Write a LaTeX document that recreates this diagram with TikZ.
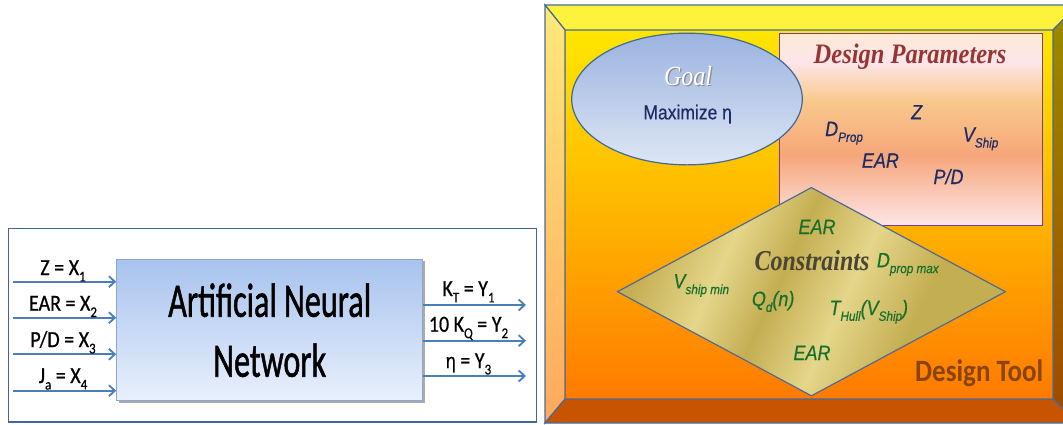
\documentclass[tikz,border=0pt]{standalone}
\usepackage{fontspec}
\setmainfont{Liberation Serif}
\newfontfamily\calfont{Carlito}[FakeBold=0.6]
\newfontfamily\calbig{Carlito}[FakeBold=1.4]
\newfontfamily\calplain{Carlito}
\newfontfamily\arialfont{Liberation Sans}[FakeBold=0.5]
\usepackage{graphicx}
\usetikzlibrary{arrows.meta,shapes.geometric,shadows}
\definecolor{arrblue}{HTML}{4A7EBB}
\definecolor{panelline}{HTML}{41649A}
\definecolor{frameline}{HTML}{4A6B9A}
\definecolor{annTop}{HTML}{A8C3EE}
\definecolor{annBot}{HTML}{E8F0FC}
\definecolor{annEdge}{HTML}{8FA6CC}
\definecolor{bevTop}{HTML}{FFF23C}
\definecolor{bevLT}{HTML}{FFE97A}
\definecolor{bevLB}{HTML}{FFA85C}
\definecolor{bevRT}{HTML}{9A8C00}
\definecolor{bevRB}{HTML}{A04800}
\definecolor{bevBot}{HTML}{C85300}
\definecolor{faceA}{HTML}{FFE600}
\definecolor{faceB}{HTML}{FFB600}
\definecolor{faceC}{HTML}{FF7A00}
\definecolor{dpA}{HTML}{FDE9D6}
\definecolor{dpB}{HTML}{FDE5EA}
\definecolor{dpC}{HTML}{F9C98C}
\definecolor{dpD}{HTML}{F6A67A}
\definecolor{dpE}{HTML}{FDE6E8}
\definecolor{dpline}{HTML}{7A3AA0}
\definecolor{dpred}{HTML}{963634}
\definecolor{navy}{HTML}{1C2C66}
\definecolor{goalTop}{HTML}{9BB3DF}
\definecolor{goalBot}{HTML}{DDE6F5}
\definecolor{goalEdge}{HTML}{3F6A99}
\definecolor{gA}{HTML}{C4AE52}
\definecolor{gB}{HTML}{E4D68A}
\definecolor{dmEdge}{HTML}{4F6A96}
\definecolor{cgreen}{HTML}{16702C}
\definecolor{cgrey}{HTML}{4A4632}
\definecolor{toolbrown}{HTML}{8A4308}
\pgfdeclarehorizontalshading{goldsh}{100bp}{color(0bp)=(gA); color(25bp)=(gA); color(36bp)=(gB); color(45bp)=(gA); color(55bp)=(gB); color(66bp)=(gA); color(75bp)=(gA); color(100bp)=(gA)}
\newcommand\lsb[1]{\raisebox{-0.28em}{\scalebox{0.65}{#1}}}
\newcommand\tall[1]{\scalebox{1}[1.15]{#1}}
\begin{document}
\begin{tikzpicture}[x=1pt,y=-1pt,
  lab/.style={font=\calfont\fontsize{20}{24}\selectfont, anchor=base, inner sep=0pt, text=black},
  arr/.style={draw=arrblue, line width=2pt, -{Straight Barb[length=6pt,width=11pt,line width=1.8pt]}},
  annbox/.style={draw=annEdge, line width=1pt, top color=annTop, bottom color=annBot, inner sep=0pt,
     drop shadow={shadow xshift=2pt, shadow yshift=-2pt, fill=black!55, opacity=0.6}},
  anntext/.style={font=\calbig\fontsize{48}{48}\selectfont, anchor=base, inner sep=0pt, text=black},
  bevel/.style={draw=frameline, line width=1.2pt},
  dpitem/.style={font=\arialfont\itshape\fontsize{18}{22}\selectfont, text=navy, anchor=base west, inner sep=0pt},
  citem/.style={font=\arialfont\itshape\fontsize{18}{22}\selectfont, text=cgreen, anchor=base west, inner sep=0pt},
  ]
\clip (0,0) rectangle (1063,424);
\fill[white] (0,0) rectangle (1063,424);

% ---------------- left panel ----------------
\draw[draw=panelline, line width=1.5pt] (8.3,228.3) rectangle (536.7,422);
\node[annbox, minimum width=306pt, minimum height=141.4pt] (ann) at (269.7,330) {};
\node[anntext] (ann1) at (269.7,316.7) {\scalebox{0.67}[1]{Artificial Neural}};
\node[anntext] (ann2) at (269.7,376.7) {\scalebox{0.67}[1]{Network}};

\coordinate (i1) at (13,281.7);
\coordinate (i2) at (13,317.7);
\coordinate (i3) at (13,354.3);
\coordinate (i4) at (13,390.7);
\foreach \k in {1,2,3,4} \draw[arr] (i\k) -- (i\k -| ann.west);
\node[lab] (l1) at (63,275) {\tall{Z = X\lsb{1}}};
\node[lab] (l2) at (63,310.7) {\tall{EAR = X\lsb{2}}};
\node[lab] (l3) at (63,347) {\tall{P/D = X\lsb{3}}};
\node[lab] (l4) at (63,383) {\tall{J\lsb{a} = X\lsb{4}}};

\coordinate (o1) at (526,305);
\coordinate (o2) at (526,340.7);
\coordinate (o3) at (526,376);
\foreach \k in {1,2,3} \draw[arr] (o\k -| ann.east) -- (o\k);
\node[lab] (r1) at (468.5,296) {\tall{K\lsb{T} = Y\lsb{1}}};
\node[lab] (r2) at (468.5,331.7) {\tall{10 K\lsb{Q} = Y\lsb{2}}};
\node[lab] (r3) at (468.5,368) {\tall{{\arialfont\fontsize{18}{20}\selectfont η} = Y\lsb{3}}};

% ---------------- right panel: bevel frame ----------------
\fill[top color=faceA, bottom color=faceB] (565,30) rectangle (1053,212);
\fill[top color=faceB, bottom color=faceC] (565,211) rectangle (1053,399);
\filldraw[bevel, fill=bevTop] (545,5) -- (1078,5) -- (1053,30) -- (565,30) -- cycle;
\filldraw[bevel, top color=bevLT, bottom color=bevLB] (545,5) -- (565,30) -- (565,399) -- (545,423) -- cycle;
\filldraw[bevel, top color=bevRT, bottom color=bevRB] (1053,30) -- (1078,5) -- (1078,423) -- (1053,399) -- cycle;
\filldraw[bevel, fill=bevBot] (565,399) -- (1053,399) -- (1078,423) -- (545,423) -- cycle;

% ---------------- design parameters box ----------------
\fill[top color=dpA, bottom color=dpB] (779.3,33.3) rectangle (1042.3,62.5);
\fill[top color=dpB, bottom color=dpC] (779.3,62) rectangle (1042.3,100.5);
\fill[top color=dpC, bottom color=dpD] (779.3,100) rectangle (1042.3,155.5);
\fill[top color=dpD, bottom color=dpE] (779.3,155) rectangle (1042.3,225.7);
\node[draw=dpline, line width=1.5pt, minimum width=263pt, minimum height=192.4pt, inner sep=0pt] (dp) at (910.8,129.5) {};
\node[font=\bfseries\itshape\fontsize{24.5}{28}\selectfont, text=dpred, anchor=base, inner sep=0pt] (dpt) at (910,63.3) {\tall{Design Parameters}};
\node[dpitem, anchor=base] (pz) at (916.7,119.3) {\tall{Z}};
\node[dpitem] (pd) at (825,136) {\tall{D\lsb{Prop}}};
\node[dpitem] (pv) at (962.7,141.7) {\tall{V\lsb{Ship}}};
\node[dpitem] (pe) at (861.7,167.7) {\tall{EAR}};
\node[dpitem] (pp) at (933.3,184) {\tall{P/D}};

% ---------------- goal ellipse ----------------
\node[ellipse, draw=goalEdge, line width=1.2pt, top color=goalTop, bottom color=goalBot,
      minimum width=230.6pt, minimum height=131.7pt, inner sep=0pt] (goal) at (687,99) {};
\node[font=\itshape\fontsize{24}{28}\selectfont, text=black!45, anchor=base, inner sep=0pt] (goalsh) at (689.3,86.8) {\tall{Goal}};
\node[font=\itshape\fontsize{24}{28}\selectfont, text=white, anchor=base, inner sep=0pt] (goalt) at (688,85) {\tall{Goal}};
\node[font=\arialfont\fontsize{17.5}{21}\selectfont, text=navy, anchor=base, inner sep=0pt] (goalm) at (687.7,119.3) {\tall{Maximize η}};

% ---------------- constraints diamond ----------------
\node[diamond, draw=dmEdge, line width=1.2pt, shading=goldsh, shading angle=-25,
      aspect=1.862, minimum width=388.4pt, minimum height=208.7pt, inner sep=0pt] (dm) at (811.4,291.7) {};
\node[citem, anchor=base] (c1) at (817,234) {\tall{EAR}};
\node[font=\bfseries\itshape\fontsize{24}{28}\selectfont, text=cgrey, anchor=base, inner sep=0pt] (ct) at (812,270.7) {\scalebox{1}[1.2]{Constraints}};
\node[citem] (c2) at (876.7,267.3) {\tall{D\lsb{prop max}}};
\node[citem] (c3) at (673.3,288.3) {\tall{V\lsb{ship min}}};
\node[citem] (c4) at (751.7,306) {\tall{Q\lsb{d}(n)}};
\node[citem] (c5) at (829.3,315) {\tall{T\lsb{Hull}(V\lsb{Ship})}};
\node[citem, anchor=base] (c6) at (812,360) {\tall{EAR}};

\node[font=\calplain\bfseries\fontsize{27}{30}\selectfont, text=toolbrown, anchor=base west, inner sep=0pt] (tool) at (915,381) {\tall{Design Tool}};
\end{tikzpicture}
\end{document}
